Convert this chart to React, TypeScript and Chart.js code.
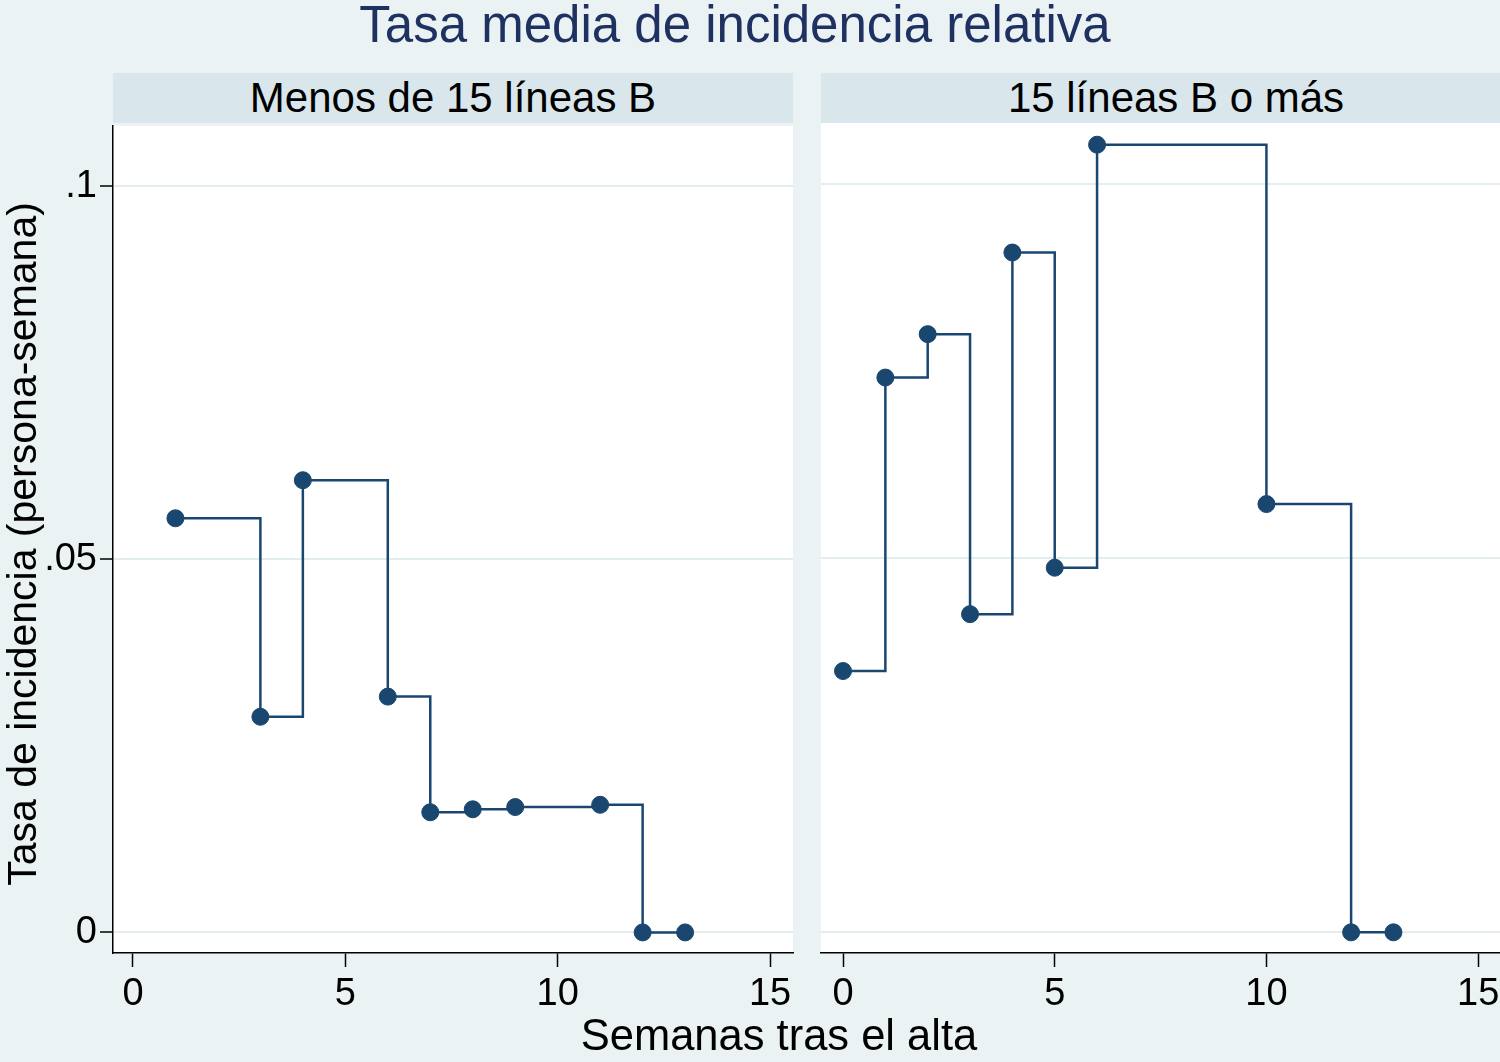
import React, { useEffect, useRef } from 'react';
import { Chart, registerables } from 'chart.js';

Chart.register(...registerables);

// ---- data ----
const TITLE = 'Tasa media de incidencia relativa';
const PANEL_LABELS = ['Menos de 15 líneas B', '15 líneas B o más'];
const X_TITLE = 'Semanas tras el alta';
const Y_TITLE = 'Tasa de incidencia (persona-semana)';

const weeksLess = [1, 3, 4, 6, 7, 8, 9, 11, 12, 13];
const rateLess = [0.0555, 0.0289, 0.0606, 0.0316, 0.0161, 0.0165, 0.0168, 0.0171, 0, 0];

const weeksMore = [0, 1, 2, 3, 4, 5, 6, 10, 12, 13];
const rateMore = [0.0349, 0.0741, 0.0799, 0.0425, 0.0908, 0.0487, 0.1052, 0.0572, 0, 0];

const xTickValues = [0, 5, 10, 15];
const yTickValues = [0, 0.05, 0.1];
const yTickLabels = ['0', '.05', '.1'];

// ---- style ----
const FONT = '"Liberation Sans", Arial, Helvetica, sans-serif';
const BG = '#EAF2F3';
const STRIP = '#D9E6EB';
const GRID = '#E3EDEF';
const NAVY = '#1A476F';

const plotBg = {
  id: 'plotBg',
  beforeDraw(chart: any) {
    const { ctx, chartArea } = chart;
    ctx.save();
    ctx.fillStyle = '#FFFFFF';
    ctx.fillRect(chartArea.left, chartArea.top, chartArea.right - chartArea.left, chartArea.bottom - chartArea.top);
    ctx.restore();
  },
};

function makeConfig(
  weeks: number[],
  rates: number[],
  isLeft: boolean,
  xMin: number,
  xMax: number,
  yWidth: number,
  padRight: number
) {
  return {
    type: 'line' as const,
    data: {
      datasets: [
        {
          data: weeks.map((w, i) => ({ x: w, y: rates[i] })),
          borderColor: NAVY,
          backgroundColor: NAVY,
          borderWidth: 2.5,
          stepped: true,
          pointRadius: 8.5,
          pointBorderWidth: 1,
          pointBorderColor: NAVY,
          pointBackgroundColor: NAVY,
          fill: false,
          clip: 12,
        },
      ],
    },
    options: {
      animation: false as const,
      responsive: false,
      maintainAspectRatio: false,
      devicePixelRatio: 1,
      layout: { padding: { top: 23, right: padRight, left: 0, bottom: 0 } },
      plugins: {
        legend: { display: false },
        tooltip: { enabled: false },
        title: { display: false },
      },
      scales: {
        x: {
          type: 'linear' as const,
          min: xMin,
          max: xMax,
          afterBuildTicks: (scale: any) => {
            scale.ticks = xTickValues.map((v) => ({ value: v }));
          },
          afterFit: (scale: any) => {
            scale.height = 109;
          },
          grid: {
            drawOnChartArea: false,
            drawTicks: true,
            tickLength: 14,
            tickWidth: 1.5,
            tickColor: '#000000',
          },
          border: { display: true, color: '#000000', width: 1.5 },
          ticks: {
            color: '#000000',
            font: { family: FONT, size: 38 },
            padding: 5,
            maxRotation: 0,
            autoSkip: false,
            callback: (v: any) => String(v),
          },
        },
        y: {
          type: 'linear' as const,
          min: -0.00276,
          max: 0.1081,
          afterBuildTicks: (scale: any) => {
            scale.ticks = yTickValues.map((v) => ({ value: v }));
          },
          afterFit: (scale: any) => {
            scale.width = yWidth;
          },
          grid: {
            drawOnChartArea: true,
            color: GRID,
            lineWidth: 2,
            drawTicks: isLeft,
            tickLength: 13,
            tickWidth: 1.5,
            tickColor: '#000000',
          },
          border: { display: isLeft, color: '#000000', width: 1.5 },
          ticks: {
            display: isLeft,
            color: '#000000',
            font: { family: FONT, size: 38 },
            padding: 3,
            autoSkip: false,
            callback: (v: any) => {
              const idx = yTickValues.indexOf(v);
              return idx >= 0 ? yTickLabels[idx] : '';
            },
          },
        },
      },
    },
    plugins: [plotBg],
  };
}

function Panel({ weeks, rates, isLeft, left, width, xMin, xMax, yWidth, padRight }: any) {
  const ref = useRef<HTMLCanvasElement>(null);
  useEffect(() => {
    if (!ref.current) return;
    const chart = new Chart(ref.current, makeConfig(weeks, rates, isLeft, xMin, xMax, yWidth, padRight) as any);
    return () => chart.destroy();
  }, []);
  return (
    <canvas
      ref={ref}
      width={width}
      height={962}
      style={{ position: 'absolute', left, top: 100, width, height: 962 }}
    />
  );
}

const stripStyle = (left: number, width: number): React.CSSProperties => ({
  position: 'absolute',
  left,
  top: 73,
  width,
  height: 50,
  background: STRIP,
  color: '#000',
  fontFamily: FONT,
  fontSize: 42,
  lineHeight: '50px',
  textAlign: 'center',
  whiteSpace: 'nowrap',
});

export default function App() {
  return (
    <div
      style={{
        position: 'fixed',
        left: 0,
        top: 0,
        width: 1500,
        height: 1062,
        background: BG,
        overflow: 'hidden',
        fontFamily: FONT,
      }}
    >
      <div
        style={{
          position: 'absolute',
          left: 0,
          top: -1,
          width: 1470,
          textAlign: 'center',
          fontSize: 51,
          lineHeight: '52px',
          color: '#1F3160',
          whiteSpace: 'nowrap',
        }}
      >
        {TITLE}
      </div>
      <div style={stripStyle(113, 680)}>{PANEL_LABELS[0]}</div>
      <div style={stripStyle(821, 710)}>{PANEL_LABELS[1]}</div>
      <Panel weeks={weeksLess} rates={rateLess} isLeft={true} left={0} width={810} xMin={-0.47} xMax={15.54} yWidth={113} padRight={17} />
      <Panel weeks={weeksMore} rates={rateMore} isLeft={false} left={780} width={760} xMin={-0.52} xMax={15.54} yWidth={41} padRight={39} />
      <div
        style={{
          position: 'absolute',
          left: 22,
          top: 544,
          width: 0,
          height: 0,
        }}
      >
        <div
          style={{
            position: 'absolute',
            left: -400,
            top: -25,
            width: 800,
            height: 50,
            lineHeight: '50px',
            textAlign: 'center',
            fontSize: 41,
            color: '#000',
            whiteSpace: 'nowrap',
            transform: 'rotate(-90deg)',
            transformOrigin: '50% 50%',
          }}
        >
          {Y_TITLE}
        </div>
      </div>
      <div
        style={{
          position: 'absolute',
          left: 529,
          top: 1011,
          width: 500,
          textAlign: 'center',
          fontSize: 43.5,
          lineHeight: '48px',
          color: '#000',
          whiteSpace: 'nowrap',
        }}
      >
        {X_TITLE}
      </div>
    </div>
  );
}
